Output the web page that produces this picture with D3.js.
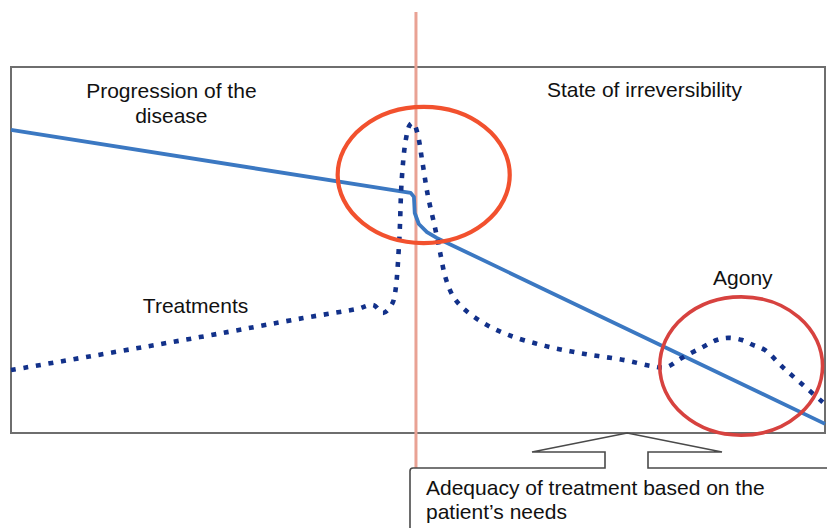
<!DOCTYPE html>
<html>
<head>
<meta charset="utf-8">
<script src="https://cdn.jsdelivr.net/npm/d3@7"></script>
<style>
  html, body { margin: 0; padding: 0; background: #fff; }
  svg { display: block; }
  text { font-family: "Liberation Sans", Arial, Helvetica, sans-serif; font-size: 21px; fill: #111; }
</style>
</head>
<body>
<svg id="chart" width="827" height="528"></svg>
<script>
// ---- data (time on x: 0..100, level on y: 0..100) ----
const diseaseX = [0, 49.1, 49.5, 49.6, 50.1, 51.1, 52.3, 100];
const diseaseY = [82.8, 65.6, 64.5, 60.1, 57.1, 54.9, 53.3, 2.5];

const treatX = [0, 23.2, 35.9, 42.5, 44.5, 45.7, 46.8, 47.2, 47.7, 48.0, 48.5, 49.0, 49.4, 49.9, 50.5, 51.2, 52.1, 52.7, 53.4, 54.3, 55.5, 58.0, 61.1, 65.6, 70.5, 75.4, 78.7, 80.5, 82.4, 85.0, 86.7, 88.1, 89.8, 91.2, 92.6, 94.8, 97.3, 100];
const treatY = [17.2, 26.2, 31.4, 33.9, 35.0, 32.8, 35.2, 38.5, 52.7, 69.1, 80.1, 84.2, 84.7, 82.2, 74.6, 65.0, 56.0, 49.5, 42.3, 37.4, 34.2, 30.1, 26.8, 23.8, 21.6, 19.9, 18.3, 18.0, 20.5, 23.5, 25.4, 26.0, 25.4, 24.0, 22.7, 18.0, 13.1, 7.9];

const turningPoint = 49.75;           // time of the vertical marker
const zoneNames = ["Progression of the", "disease", "State of irreversibility", "Treatments", "Agony"];
const calloutLines = ["Adequacy of treatment based on the", "patient\u2019s needs"];
// highlighted zones: [centerX, centerY, radiusX, radiusY]
const zoneIrreversible = [50.7, 70.5, 10.57, 18.6];
const zoneAgony = [89.7, 18.3, 10.0, 18.9];

// ---- drawing ----
const svg = d3.select("#chart");
const x = d3.scaleLinear().domain([0, 100]).range([11, 825]);
const y = d3.scaleLinear().domain([0, 100]).range([433, 67]);

// frame
svg.append("rect")
  .attr("x", x(0)).attr("y", y(100))
  .attr("width", x(100) - x(0)).attr("height", y(0) - y(100))
  .attr("fill", "none").attr("stroke", "#6e6e6e").attr("stroke-width", 2);

// vertical marker
svg.append("line")
  .attr("x1", x(turningPoint)).attr("x2", x(turningPoint))
  .attr("y1", y(115)).attr("y2", 528)
  .attr("stroke", "#e9a294").attr("stroke-width", 3);

// disease progression
svg.append("path")
  .datum(d3.zip(diseaseX, diseaseY))
  .attr("d", d3.line().x(d => x(d[0])).y(d => y(d[1])).curve(d3.curveLinear))
  .attr("fill", "none").attr("stroke", "#3b78c2").attr("stroke-width", 3.8)
  .attr("stroke-linejoin", "round");

// treatments
svg.append("path")
  .datum(d3.zip(treatX, treatY))
  .attr("d", d3.line().x(d => x(d[0])).y(d => y(d[1])).curve(d3.curveCatmullRom.alpha(0.5)))
  .attr("fill", "none").attr("stroke", "#12318a").attr("stroke-width", 4.6)
  .attr("stroke-dasharray", "5,7.7");

// zones
function ellipse(z, color, w) {
  svg.append("ellipse")
    .attr("cx", x(z[0])).attr("cy", y(z[1]))
    .attr("rx", x(z[2]) - x(0)).attr("ry", y(0) - y(z[3]))
    .attr("fill", "none").attr("stroke", color).attr("stroke-width", w);
}
ellipse(zoneIrreversible, "#f2512e", 4.2);
ellipse(zoneAgony, "#d7423f", 3.6);

// labels
svg.append("text").attr("x", x(19.7)).attr("y", y(91.5)).attr("text-anchor", "middle").text(zoneNames[0]);
svg.append("text").attr("x", x(19.7)).attr("y", y(84.7)).attr("text-anchor", "middle").text(zoneNames[1]);
svg.append("text").attr("x", x(65.85)).attr("y", y(91.8)).text(zoneNames[2]);
svg.append("text").attr("x", x(16.2)).attr("y", y(32.8)).text(zoneNames[3]);
svg.append("text").attr("x", x(86.25)).attr("y", y(40.4)).text(zoneNames[4]);

// callout box with arrow
const apexX = x(75.7), apexY = y(0);
const bx = 410, by = 468, baseY = 452;
const callout = d3.path();
callout.moveTo(bx, 540);
callout.lineTo(bx, by + 3);
callout.quadraticCurveTo(bx, by, bx + 3, by);
callout.lineTo(605, by);
callout.lineTo(605, baseY);
callout.lineTo(532, baseY);
callout.lineTo(apexX, apexY);
callout.lineTo(722, baseY);
callout.lineTo(648, baseY);
callout.lineTo(648, by);
callout.lineTo(840, by);
callout.lineTo(840, 540);
callout.closePath();
svg.append("path").attr("d", callout.toString())
  .attr("fill", "#fff").attr("stroke", "#4a4a4a").attr("stroke-width", 1.6)
  .attr("stroke-linejoin", "miter");

svg.append("text").attr("x", 426).attr("y", 495).text(calloutLines[0]);
svg.append("text").attr("x", 426).attr("y", 519).text(calloutLines[1]);
</script>
</body>
</html>
